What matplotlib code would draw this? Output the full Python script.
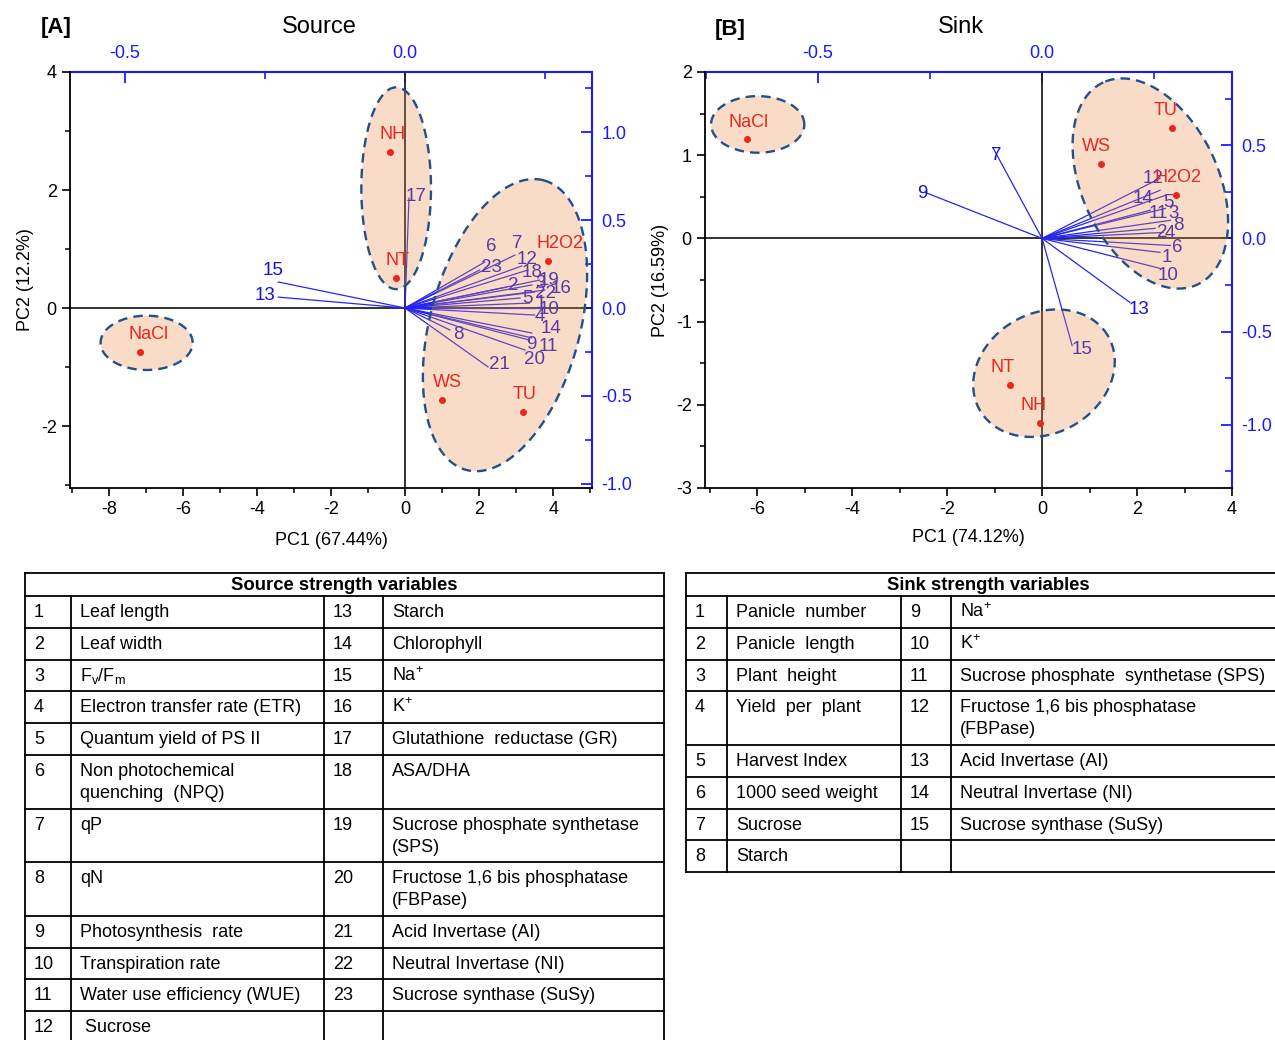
import numpy as np
import matplotlib.pyplot as plt
from matplotlib.patches import Polygon

plt.rcParams['font.family'] = ['Liberation Sans', 'DejaVu Sans']
plt.rcParams['mathtext.fontset'] = 'custom'
plt.rcParams['mathtext.rm'] = 'Liberation Sans'
plt.rcParams['mathtext.it'] = 'Liberation Sans:italic'
plt.rcParams['axes.unicode_minus'] = False

# ---------------- [A] source strength PCA ----------------
src_groups = ['NaCl', 'NH', 'NT', 'H2O2', 'WS', 'TU']
src_pc1 = [-7.17, -0.40, -0.24, 3.86, 1.00, 3.18]
src_pc2 = [-0.75, 2.64, 0.51, 0.80, -1.56, -1.76]

src_vars = [str(i) for i in range(1, 24)]
src_load1 = [0.222, 0.181, 0.226, 0.231, 0.205, 0.142, 0.196, 0.080, 0.222, 0.240,
             0.226, 0.208, -0.226, 0.226, -0.226, 0.249, 0.007, 0.219, 0.240, 0.214,
             0.148, 0.231, 0.133]
src_load2 = [0.028, 0.119, 0.131, -0.040, 0.057, 0.261, 0.301, -0.125, -0.182, 0.000,
             -0.170, 0.239, 0.062, -0.142, 0.148, 0.102, 0.625, 0.216, 0.159, -0.239,
             -0.335, 0.091, 0.216]

# ---------------- [B] sink strength PCA ----------------
snk_groups = ['NaCl', 'TU', 'WS', 'H2O2', 'NT', 'NH']
snk_pc1 = [-6.22, 2.74, 1.24, 2.81, -0.68, -0.04]
snk_pc2 = [1.19, 1.33, 0.89, 0.52, -1.76, -2.22]

snk_vars = [str(i) for i in range(1, 16)]
snk_load1 = [0.263, 0.252, 0.275, 0.270, 0.275, 0.286, -0.109, 0.286, -0.261, 0.263,
             0.241, 0.263, 0.196, 0.263, 0.067]
snk_load2 = [-0.075, 0.054, 0.161, 0.032, 0.231, -0.038, 0.484, 0.097, 0.247, -0.161,
             0.151, 0.323, -0.344, 0.258, -0.575]

# hand placed label nudges (points) so the crowded numbers stay readable
src_nudge = {'1': (8, 0), '2': (5, 1.5), '3': (6, 1), '4': (4, -1), '5': (5, 0),
             '6': (5, 11), '7': (1.5, 8), '8': (6, -3.5), '9': (1.5, -3), '10': (7, -1),
             '11': (12, -6), '12': (4, 5), '13': (-9.5, 1.5), '14': (13.5, 3),
             '15': (-3.5, 8.5), '16': (12, 1), '17': (5, 1), '18': (3, -1.5),
             '19': (6.5, 0), '20': (6.5, -7), '21': (8, 2), '22': (8, -1), '23': (8.5, 1.5)}
snk_nudge = {'1': (5, -3.5), '2': (5, -3), '3': (6, -3.5), '4': (5, -1), '5': (2, -5),
             '6': (5, -1.5), '7': (2, -5), '8': (6, -3.5), '9': (-2, -1), '10': (6, -5),
             '11': (6, -2), '12': (-5, 0), '13': (6.5, -5), '14': (-12, -6), '15': (7, -3)}
src_gnudge = {'NaCl': 6.5, 'NH': 1.5, 'NT': 1, 'H2O2': 9, 'WS': 3.5, 'TU': 1.5}
snk_gnudge = {'NaCl': 1, 'TU': -5, 'WS': -3, 'H2O2': 2, 'NT': -5, 'NH': -5}

# cluster ellipses: centre x, centre y, semi axes (y units), angle
src_clusters = [(-6.98, -0.59, 0.78, 0.46, 0), (-0.24, 2.03, 1.71, 0.59, 90),
                (2.70, -0.29, 2.54, 1.27, 75)]
snk_clusters = [(-5.99, 1.37, 0.56, 0.34, 0), (2.28, 0.66, 1.34, 0.82, 115),
                (0.04, -1.62, 0.89, 0.72, 30)]

# ---------------- tables ----------------
src_rows = [
    ('1', 'Leaf length', '13', 'Starch'),
    ('2', 'Leaf width', '14', 'Chlorophyll'),
    ('3', r'F$_\mathregular{v}$/F$_\mathregular{m}$', '15', r'Na$^\mathregular{+}$'),
    ('4', 'Electron transfer rate (ETR)', '16', r'K$^\mathregular{+}$'),
    ('5', 'Quantum yield of PS II', '17', 'Glutathione  reductase (GR)'),
    ('6', 'Non photochemical\nquenching  (NPQ)', '18', 'ASA/DHA'),
    ('7', 'qP', '19', 'Sucrose phosphate synthetase\n(SPS)'),
    ('8', 'qN', '20', 'Fructose 1,6 bis phosphatase\n(FBPase)'),
    ('9', 'Photosynthesis  rate', '21', 'Acid Invertase (AI)'),
    ('10', 'Transpiration rate', '22', 'Neutral Invertase (NI)'),
    ('11', 'Water use efficiency (WUE)', '23', 'Sucrose synthase (SuSy)'),
    ('12', ' Sucrose', '', ''),
]
snk_rows = [
    ('1', 'Panicle  number', '9', r'Na$^\mathregular{+}$'),
    ('2', 'Panicle  length', '10', r'K$^\mathregular{+}$'),
    ('3', 'Plant  height', '11', 'Sucrose phosphate  synthetase (SPS)'),
    ('4', 'Yield  per  plant', '12', 'Fructose 1,6 bis phosphatase\n(FBPase)'),
    ('5', 'Harvest Index', '13', 'Acid Invertase (AI)'),
    ('6', '1000 seed weight', '14', 'Neutral Invertase (NI)'),
    ('7', 'Sucrose', '15', 'Sucrose synthase (SuSy)'),
    ('8', 'Starch', '', ''),
]

W, H = 1275, 1040
fig = plt.figure(figsize=(W / 100, H / 100), dpi=100)

VEC = '#2626f0'
LAB = '#1616d2'
RED = '#e8261c'


def draw_biplot(rect, groups, pc1, pc2, names, l1, l2, sx, sy, nudge, gnudge,
                clusters, xlim, ylim):
    ax = fig.add_axes(rect)
    ax.set_xlim(*xlim)
    ax.set_ylim(*ylim)
    ax.axhline(0, color='#222222', lw=1.3, zorder=1)
    ax.axvline(0, color='#222222', lw=1.3, zorder=1)

    # loading vectors
    for n, a, b in zip(names, l1, l2):
        ax.plot([0, a * sx], [0, b * sy], color=VEC, lw=0.9, zorder=2)
        ax.annotate(n, (a * sx, b * sy), xytext=nudge[n], textcoords='offset points',
                    ha='center', va='center', color=LAB, fontsize=13.5, zorder=2)

    # clusters drawn as true ellipses on screen
    w_px = rect[2] * W
    h_px = rect[3] * H
    k = (w_px / (xlim[1] - xlim[0])) / (h_px / (ylim[1] - ylim[0]))
    t = np.linspace(0, 2 * np.pi, 300)
    for cx, cy, a, b, ang in clusters:
        c, s = np.cos(np.radians(ang)), np.sin(np.radians(ang))
        u = a * np.cos(t) * c - b * np.sin(t) * s
        v = a * np.cos(t) * s + b * np.sin(t) * c
        xy = np.column_stack([cx + u / k, cy + v])
        ax.add_patch(Polygon(xy, closed=True, fc='#ee8e48', ec='none', alpha=0.3, zorder=3))
        ax.add_patch(Polygon(xy, closed=True, fill=False, ec='#234f8a', lw=1.7,
                             ls=(0, (4, 2.6)), zorder=4))

    # treatment scores
    ax.plot(pc1, pc2, 'o', color=RED, ms=4, zorder=5)
    for g, x, y in zip(groups, pc1, pc2):
        ax.annotate(g, (x, y), xytext=(gnudge[g], 12.5), textcoords='offset points',
                    ha='center', va='center', color=RED, fontsize=13, zorder=5)

    ax.spines['top'].set_visible(False)
    ax.spines['right'].set_visible(False)
    for sp in ('left', 'bottom'):
        ax.spines[sp].set_linewidth(1.3)
    ax.tick_params(direction='out', length=6, width=1.2, labelsize=13)
    ax.tick_params(which='minor', direction='out', length=3.5, width=1.1)

    top = ax.secondary_xaxis('top', functions=(lambda x: x / sx, lambda x: x * sx))
    right = ax.secondary_yaxis('right', functions=(lambda y: y / sy, lambda y: y * sy))
    for sec, sp in ((top, 'top'), (right, 'right')):
        sec.spines[sp].set_color('#1a1aff')
        sec.spines[sp].set_linewidth(1.5)
        sec.tick_params(direction='in', length=8, width=1.3, colors='#1a1aff',
                        labelcolor='#1a1aff', labelsize=13, pad=7)
        sec.tick_params(which='minor', direction='in', length=5, width=1.2,
                        colors='#1a1aff')
    return ax, top, right


fmt = lambda v, p: '%.1f' % v

axA, topA, rightA = draw_biplot(
    [70 / W, 1 - 488 / H, 522 / W, 416 / H], src_groups, src_pc1, src_pc2,
    src_vars, src_load1, src_load2, 15.15, 2.98, src_nudge, src_gnudge,
    src_clusters, (-9.05, 5.05), (-3.05, 4.0))
axA.set_xticks([-8, -6, -4, -2, 0, 2, 4])
axA.set_xticks([-9, -7, -5, -3, -1, 1, 3, 5], minor=True)
axA.set_yticks([-2, 0, 2, 4])
axA.set_yticks([-3, -1, 1, 3], minor=True)
topA.set_xticks([-0.5, 0.0])
topA.set_xticks([-0.25, 0.25], minor=True)
rightA.set_yticks([-1.0, -0.5, 0.0, 0.5, 1.0])
rightA.set_yticks([-0.75, -0.25, 0.25, 0.75, 1.25], minor=True)
topA.xaxis.set_major_formatter(fmt)
rightA.yaxis.set_major_formatter(fmt)
axA.set_xlabel('PC1 (67.44%)', fontsize=13, labelpad=10)
axA.set_ylabel('PC2 (12.2%)', fontsize=13, labelpad=5)

axB, topB, rightB = draw_biplot(
    [705 / W, 1 - 488 / H, 527 / W, 416 / H], snk_groups, snk_pc1, snk_pc2,
    snk_vars, snk_load1, snk_load2, 9.45, 2.24, snk_nudge, snk_gnudge,
    snk_clusters, (-7.1, 4.0), (-3.0, 2.0))
axB.set_xticks([-6, -4, -2, 0, 2, 4])
axB.set_xticks([-7, -5, -3, -1, 1, 3], minor=True)
axB.set_yticks([-3, -2, -1, 0, 1, 2])
axB.set_yticks([-2.5, -1.5, -0.5, 0.5, 1.5], minor=True)
topB.set_xticks([-0.5, 0.0])
topB.set_xticks([-0.75, -0.25, 0.25], minor=True)
rightB.set_yticks([-1.0, -0.5, 0.0, 0.5])
rightB.set_yticks([-1.25, -0.75, -0.25, 0.25, 0.75], minor=True)
topB.xaxis.set_major_formatter(fmt)
rightB.yaxis.set_major_formatter(fmt)
axB.set_xlabel('PC1 (74.12%)', fontsize=13, labelpad=8)
axB.set_ylabel('PC2 (16.59%)', fontsize=13, labelpad=5)

fig.text(319 / W, 1 - 27 / H, 'Source', fontsize=17, ha='center', va='center')
fig.text(961 / W, 1 - 27 / H, 'Sink', fontsize=17, ha='center', va='center')
fig.text(56 / W, 1 - 27 / H, '[A]', fontsize=16, weight='bold', ha='center', va='center')
fig.text(730 / W, 1 - 29 / H, '[B]', fontsize=16, weight='bold', ha='center', va='center')

# ---------------- variable tables ----------------
tab = fig.add_axes([0, 0, 1, 1], zorder=-1)
tab.set_xlim(0, W)
tab.set_ylim(H, 0)
tab.axis('off')


def draw_table(cols, top, header, rows):
    x0, x1 = cols[0], cols[-1]
    line = dict(color='black', lw=1.3)
    tab.plot([x0, x1], [top, top], **line)
    tab.text((x0 + x1) / 2, top + 17, header, ha='center', va='baseline',
             fontsize=13.3, weight='bold')
    y = top + 23
    tab.plot([x0, x1], [y, y], **line)
    for row in rows:
        nlines = max(len(c.split('\n')) for c in row)
        h = 31.8 if nlines == 1 else 53.6
        for cx, cell in zip(cols[:-1], row):
            for i, part in enumerate(cell.split('\n')):
                if part:
                    tab.text(cx + 9, y + 21 + i * 22, part, ha='left', va='baseline',
                             fontsize=13)
        y += h
        tab.plot([x0, x1], [y, y], **line)
    tab.plot([x0, x0], [top, y], **line)
    tab.plot([x1, x1], [top, y], **line)
    for cx in cols[1:-1]:
        tab.plot([cx, cx], [top + 23, y], **line)


draw_table([25, 71, 324, 383, 664], 573, 'Source strength variables', src_rows)
draw_table([686, 727, 901, 951, 1290], 573, 'Sink strength variables', snk_rows)

fig.savefig('out.png', dpi=100)
